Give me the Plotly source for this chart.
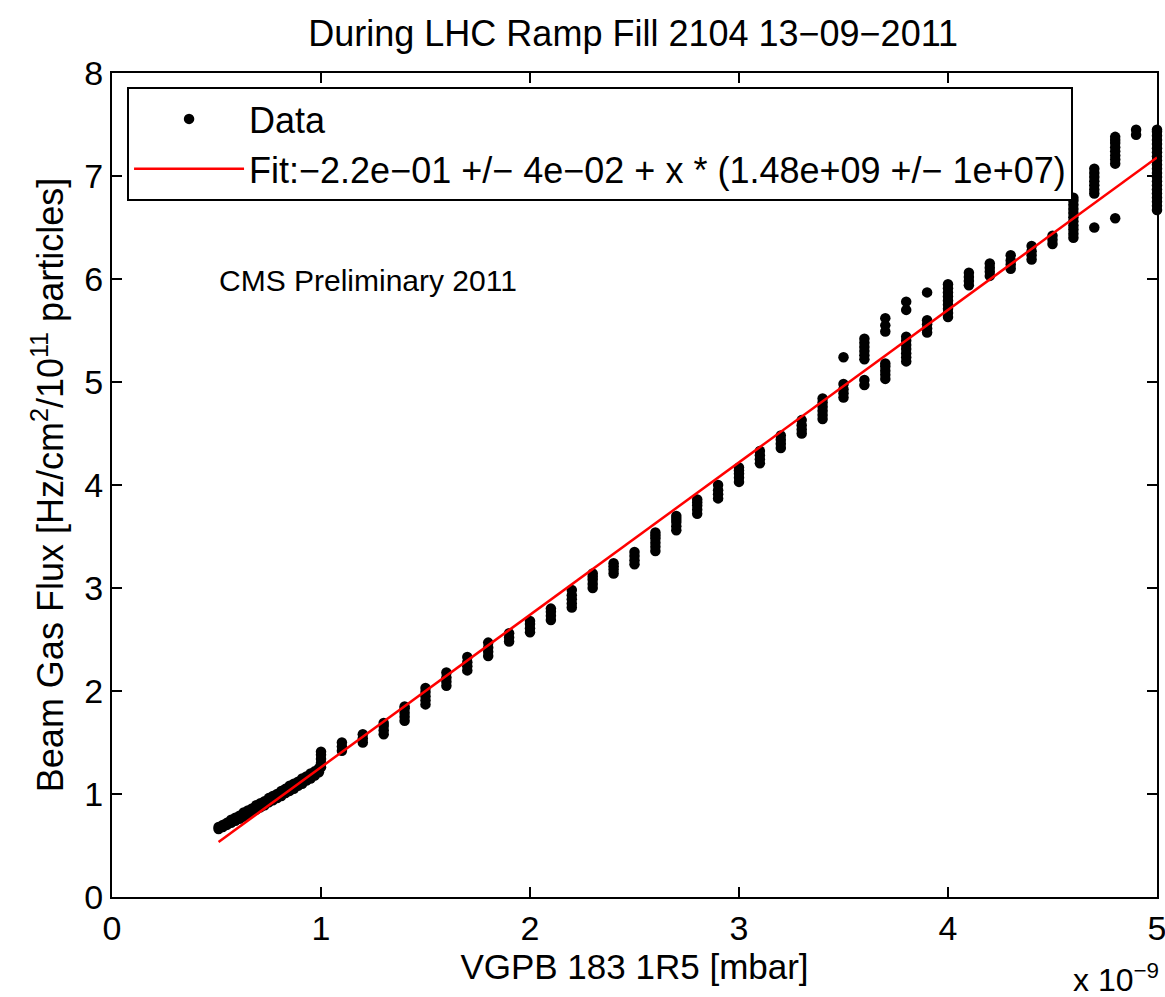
import plotly.graph_objects as go

# ---- data (x in units of 1e-9 mbar) ----
x_low = [0.51, 0.53, 0.55, 0.57, 0.59, 0.61, 0.63, 0.65, 0.67, 0.69, 0.71, 0.73, 0.75,
         0.77, 0.79, 0.81, 0.83, 0.85, 0.87, 0.89, 0.91, 0.93, 0.95, 0.97, 0.99]
y_low_a = [0.66, 0.68, 0.70, 0.72, 0.74, 0.76, 0.78, 0.80, 0.83, 0.85, 0.87, 0.89, 0.92,
           0.94, 0.96, 0.98, 1.01, 1.03, 1.05, 1.08, 1.10, 1.13, 1.15, 1.18, 1.21]
y_low_b = [0.68, 0.70, 0.72, 0.75, 0.77, 0.79, 0.82, 0.84, 0.86, 0.89, 0.91, 0.93, 0.96,
           0.98, 1.00, 1.03, 1.05, 1.08, 1.10, 1.12, 1.15, 1.17, 1.20, 1.22, 1.25]

cluster_x = [1.0, 1.1, 1.2, 1.3, 1.4, 1.5, 1.6, 1.7, 1.8, 1.9,
             2.0, 2.1, 2.2, 2.3, 2.4, 2.5, 2.6, 2.7, 2.8, 2.9,
             3.0, 3.1, 3.2, 3.3, 3.4, 3.5, 3.6, 3.7, 3.8, 3.9,
             4.0, 4.1, 4.2, 4.3, 4.4, 4.5, 4.6, 4.7, 4.8, 4.9, 5.0]
cluster_y = [
    [1.26, 1.30, 1.34, 1.38, 1.41],
    [1.42, 1.46, 1.50],
    [1.50, 1.54, 1.58],
    [1.58, 1.62, 1.66, 1.69],
    [1.71, 1.75, 1.79, 1.83, 1.85],
    [1.87, 1.91, 1.95, 1.99, 2.03],
    [2.05, 2.09, 2.13, 2.18],
    [2.20, 2.24, 2.28, 2.33],
    [2.34, 2.38, 2.42, 2.47],
    [2.48, 2.52, 2.56],
    [2.57, 2.61, 2.65, 2.68],
    [2.69, 2.73, 2.77, 2.80],
    [2.81, 2.85, 2.89, 2.93, 2.98],
    [3.00, 3.04, 3.08, 3.11, 3.14],
    [3.14, 3.18, 3.21, 3.24],
    [3.23, 3.27, 3.31, 3.35],
    [3.36, 3.40, 3.44, 3.48, 3.51, 3.54],
    [3.56, 3.60, 3.64, 3.67, 3.70],
    [3.72, 3.76, 3.80, 3.83, 3.86],
    [3.87, 3.91, 3.95, 4.00],
    [4.03, 4.07, 4.11, 4.14, 4.17],
    [4.21, 4.25, 4.29, 4.33],
    [4.36, 4.40, 4.44, 4.48],
    [4.50, 4.54, 4.58, 4.63],
    [4.64, 4.68, 4.72, 4.76, 4.80, 4.84],
    [4.85, 4.89, 4.93, 4.98, 5.24],
    [4.97, 5.02, 5.22, 5.26, 5.30, 5.34, 5.38, 5.42],
    [5.03, 5.07, 5.11, 5.15, 5.18, 5.49, 5.55, 5.62],
    [5.20, 5.24, 5.28, 5.32, 5.36, 5.40, 5.44, 5.70, 5.78],
    [5.48, 5.52, 5.56, 5.60, 5.87],
    [5.63, 5.67, 5.71, 5.75, 5.79, 5.83, 5.87, 5.91, 5.95],
    [5.94, 5.98, 6.02, 6.06],
    [6.03, 6.07, 6.11, 6.15],
    [6.10, 6.14, 6.18, 6.23],
    [6.19, 6.23, 6.27, 6.32],
    [6.34, 6.38, 6.42],
    [6.40, 6.44, 6.48, 6.52, 6.56, 6.60, 6.64, 6.68, 6.72, 6.76, 6.79],
    [6.50, 6.83, 6.87, 6.91, 6.95, 6.99, 7.03, 7.07],
    [6.59, 7.12, 7.16, 7.20, 7.24, 7.28, 7.32, 7.35, 7.38],
    [7.40, 7.45],
    [6.67, 6.71, 6.75, 6.79, 6.83, 6.87, 6.91, 6.95, 6.99, 7.03, 7.07, 7.11,
     7.15, 7.19, 7.23, 7.27, 7.31, 7.35, 7.39, 7.43, 7.45],
]

fit_intercept = -0.22
fit_slope = 1.48          # 1.48e9 per mbar -> per 1e-9 mbar
fit_x_range = [0.51, 5.0]

x_ticks = [0, 1, 2, 3, 4, 5]
y_ticks = [0, 1, 2, 3, 4, 5, 6, 7, 8]

# ---- assemble ----
xs, ys = [], []
for x, a, b in zip(x_low, y_low_a, y_low_b):
    xs += [x, x]
    ys += [a, b]
for x, yl in zip(cluster_x, cluster_y):
    for y in yl:
        xs.append(x)
        ys.append(y)

fit_y = [fit_intercept + fit_slope * v for v in fit_x_range]

FONT = "Liberation Sans, Arial, Helvetica, sans-serif"

fig = go.Figure()
fig.add_trace(go.Scatter(
    x=xs, y=ys, mode="markers", name="Data",
    marker=dict(color="black", size=10.5, line=dict(width=0)),
    cliponaxis=False,
))
fig.add_trace(go.Scatter(
    x=fit_x_range, y=fit_y, mode="lines",
    name="Fit:\u22122.2e\u221201 +/\u2212 4e\u221202 + x * (1.48e+09 +/\u2212 1e+07)",
    line=dict(color="red", width=2.5),
))

axis_common = dict(
    showgrid=False, zeroline=False, showline=True, linecolor="black", linewidth=2,
    mirror="ticks", ticks="inside", ticklen=10, tickwidth=1.5, tickcolor="black",
    tickfont=dict(family=FONT, size=34, color="black"), automargin=False,
    ticklabeloverflow="allow",
)

fig.update_layout(
    width=1165, height=997,
    margin=dict(l=112, r=8, t=73, b=100),
    paper_bgcolor="white", plot_bgcolor="white",
    font=dict(family=FONT, color="black"),
    title=dict(text="During LHC Ramp Fill 2104 13\u221209\u22122011",
               x=0.5435, xanchor="center", y=0.967, yanchor="middle",
               font=dict(size=36, family=FONT, color="black")),
    xaxis=dict(range=[0, 5], tickvals=x_ticks, ticktext=[str(t) for t in x_ticks],
               title=dict(text="VGPB 183 1R5 [mbar]", standoff=6,
                          font=dict(size=35, family=FONT)),
               **axis_common),
    yaxis=dict(range=[0, 8], tickvals=y_ticks, ticktext=[str(t) for t in y_ticks],
               title=dict(text="Beam Gas Flux [Hz/cm<sup>2</sup>/10<sup>11</sup> particles]",
                          standoff=10, font=dict(size=36, family=FONT)),
               **axis_common),
    legend=dict(x=0.0144, y=0.983, xanchor="left", yanchor="top",
                bgcolor="white", bordercolor="black", borderwidth=2,
                font=dict(size=36, family=FONT, color="black"),
                itemwidth=110, tracegroupgap=0),
    showlegend=True,
)

fig.add_annotation(x=0.5, y=5.99, xref="x", yref="y", text="CMS Preliminary 2011",
                   showarrow=False, xanchor="left", yanchor="middle",
                   font=dict(size=30, family=FONT, color="black"))
fig.add_annotation(x=1.004, y=-0.098, xref="paper", yref="paper",
                   text="x 10<sup>\u22129</sup>", showarrow=False,
                   xanchor="right", yanchor="middle",
                   font=dict(size=32, family=FONT, color="black"))

fig.write_html("out.html")
